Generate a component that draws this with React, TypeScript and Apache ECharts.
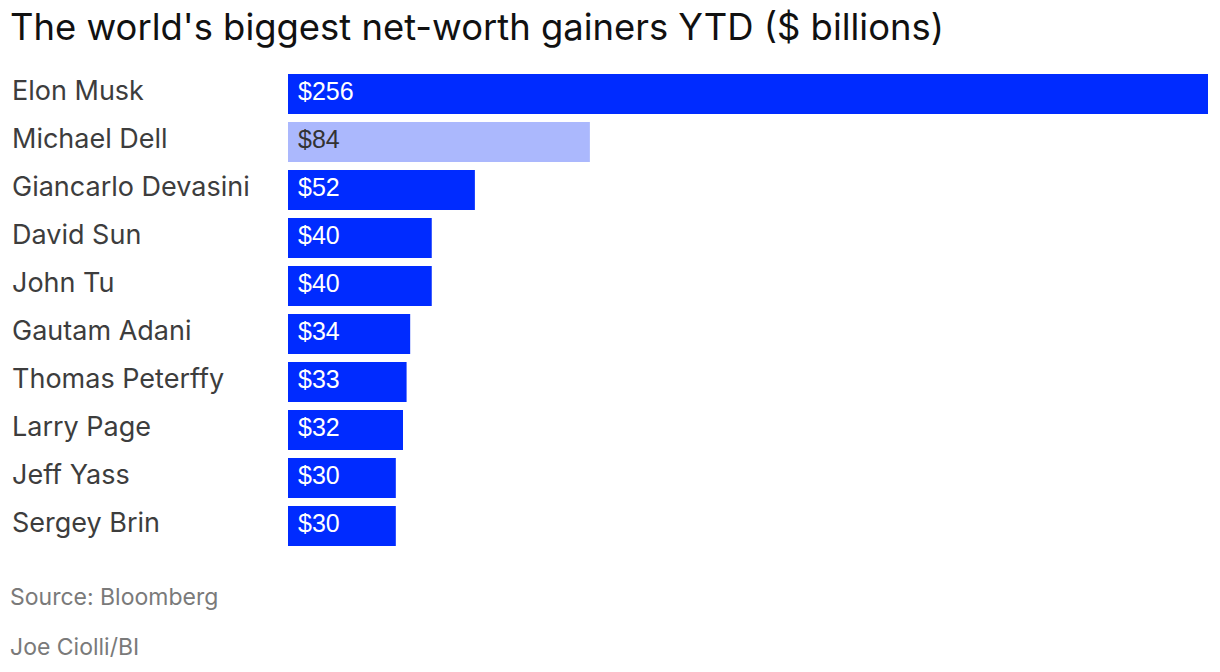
import React, { useEffect, useRef } from "react";
import * as echarts from "echarts";

const names = [
  "Elon Musk",
  "Michael Dell",
  "Giancarlo Devasini",
  "David Sun",
  "John Tu",
  "Gautam Adani",
  "Thomas Peterffy",
  "Larry Page",
  "Jeff Yass",
  "Sergey Brin",
];
const gains = [256, 84, 52, 40, 40, 34, 33, 32, 30, 30];
const highlighted = "Michael Dell";

const BLUE = "#002bff";
const LIGHT = "#abb8fd";

export default function App() {
  const ref = useRef<HTMLDivElement>(null);

  useEffect(() => {
    document.body.style.margin = "0";
    const chart = echarts.init(ref.current!, null, { renderer: "svg" });
    const font = "Inter, 'Noto Sans', sans-serif";
    chart.setOption({
      animation: false,
      backgroundColor: "#ffffff",
      grid: { left: 288, right: 12, top: 70, height: 480, containLabel: false },
      xAxis: { type: "value", min: 0, max: 256, show: false },
      yAxis: {
        type: "category",
        data: names,
        inverse: true,
        axisLine: { show: false },
        axisTick: { show: false },
        axisLabel: {
          align: "left",
          verticalAlign: "bottom",
          lineHeight: 8,
          margin: 276,
          color: "#3d3d3d",
          fontFamily: font,
          fontSize: 27,
        },
      },
      series: [
        {
          type: "bar",
          barCategoryGap: "16.67%",
          data: gains.map((v, i) => ({
            value: v,
            itemStyle: { color: names[i] === highlighted ? LIGHT : BLUE },
            label: { color: names[i] === highlighted ? "#333333" : "#ffffff" },
          })),
          label: {
            show: true,
            position: "insideLeft",
            distance: 10,
            offset: [0, -3],
            formatter: (p: any) => "$" + p.value,
            fontFamily: "'Liberation Sans', Arial, sans-serif",
            fontSize: 25,
          },
        },
      ],
      graphic: [
        {
          type: "text",
          left: 10,
          top: 9,
          style: {
            text: "The world's biggest net-worth gainers YTD ($ billions)",
            fontFamily: font,
            fontSize: 36.4,
            fill: "#111111",
          },
        },
        {
          type: "text",
          left: 10,
          top: 585,
          style: {
            text: "Source: Bloomberg",
            fontFamily: font,
            fontSize: 23,
            fill: "#7a7a7a",
          },
        },
        {
          type: "text",
          left: 10,
          top: 635,
          style: {
            text: "Joe Ciolli/BI",
            fontFamily: font,
            fontSize: 23,
            fill: "#7a7a7a",
          },
        },
      ],
    });
    return () => chart.dispose();
  }, []);

  return <div ref={ref} style={{ width: 1220, height: 672 }} />;
}
